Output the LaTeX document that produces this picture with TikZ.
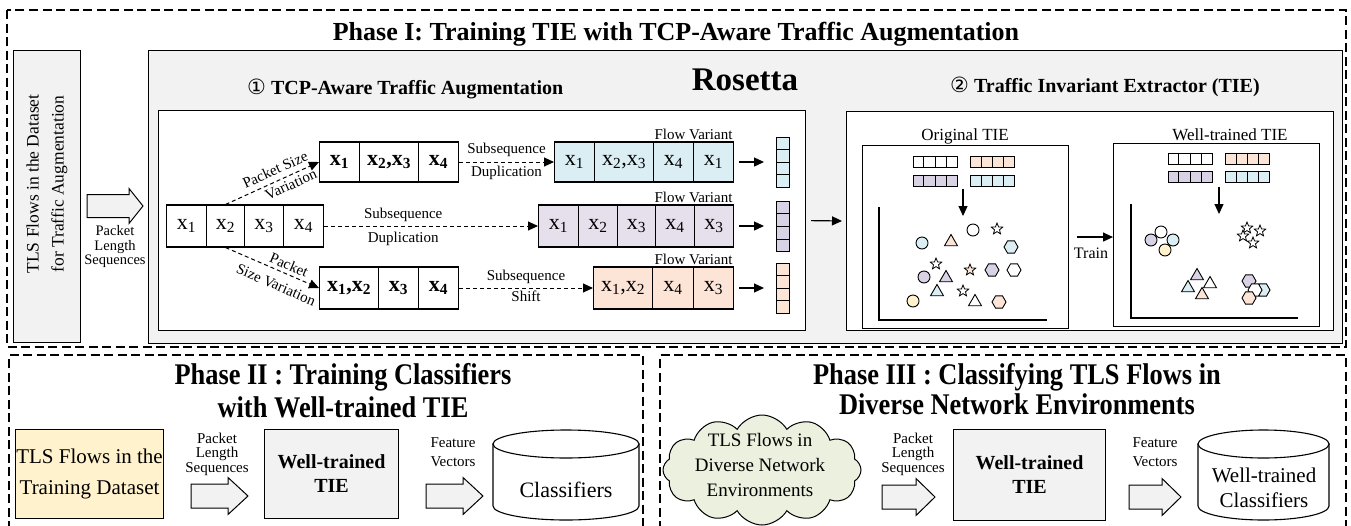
\documentclass[tikz,border=0pt]{standalone}
\usepackage{fontspec}
\setmainfont{Liberation Serif}
\newfontfamily\djv{DejaVu Sans}
\newfontfamily\condf[FakeStretch=0.88]{Liberation Serif}
\usetikzlibrary{arrows.meta,shapes.geometric,shapes.symbols,calc}
\definecolor{boxgray}{HTML}{F2F2F2}
\definecolor{cblue}{HTML}{DAEEF3}
\definecolor{cpurp}{HTML}{E5E0EC}
\definecolor{cpurpd}{HTML}{D9D2E5}
\definecolor{corange}{HTML}{FCE4D6}
\definecolor{cyellow}{HTML}{FFF2CC}
\definecolor{cgreen}{HTML}{EBF1DE}
\newcommand\fsz[2]{\fontsize{#1}{#2}\selectfont}
\newcommand\xx[1]{x\textsubscript{#1}}
\tikzset{
  phase/.style={line width=1.1pt, dash pattern=on 9pt off 4.5pt},
  graybox/.style={draw, fill=boxgray, line width=1.1pt, inner sep=0pt},
  whitebox/.style={draw, fill=white, line width=1.1pt, inner sep=0pt},
  cellr/.style={draw, line width=1.1pt, inner sep=0pt, anchor=west, minimum height=42pt, font=\fsz{22}{22}},
  cellb/.style={cellr, font=\bfseries\fsz{22}{22}},
  lab/.style={font=\fsz{15}{16}, inner sep=1.5pt},
  darr/.style={line width=1pt, dash pattern=on 4pt off 3pt, -{Triangle[length=10pt,width=9pt]}},
  sarr/.style={line width=1.2pt, -{Triangle[length=10pt,width=9pt]}},
  barr/.style={draw, fill=boxgray, line width=1pt},
  shp/.style={draw, line width=0.9pt, inner sep=0pt},
  cir/.style={shp, circle, minimum size=12pt},
  tri/.style={shp, regular polygon, regular polygon sides=3, minimum size=15pt},
  hex/.style={shp, regular polygon, regular polygon sides=6, minimum size=14pt},
  st/.style={shp, star, star points=5, star point ratio=2.3, minimum size=12pt, line width=0.8pt},
}
\newcommand\hvec[4]{\node[draw, fill=#4, line width=0.9pt, minimum width=44pt, minimum height=11pt, inner sep=0pt] (#1) at (#2,#3) {};
  \foreach \k in {1,2,3} \draw[line width=0.9pt] ($(#1.north west)!\k/4!(#1.north east)$) -- ($(#1.south west)!\k/4!(#1.south east)$);}
\newcommand\vvec[4]{\node[draw, fill=#4, line width=1pt, minimum width=13pt, minimum height=50pt, inner sep=0pt] (#1) at (#2,#3) {};
  \foreach \k in {1,2,3} \draw[line width=1pt] ($(#1.north west)!\k/4!(#1.south west)$) -- ($(#1.north east)!\k/4!(#1.south east)$);}
\newcommand\blkarrow[7]{\coordinate (#1) at (#2,#3);
  \draw[barr] (#1) ++(0,-#6) -- ++(#4-#5,0) -- ++(0,#6-#7) -- ++(#5,#7) -- ++(-#5,#7) -- ++(0,#6-#7) -- ++(-#4+#5,0) -- cycle;}
\newcommand\cyl[6]{% name, cx, top, bottom, halfwidth, ry
  \coordinate (#1) at (#2,{(#3+#4)/2});
  \draw[line width=1.1pt, fill=white] (#2-#5,#3+#6) -- (#2-#5,#4-#6) arc[start angle=180, end angle=0, x radius=#5, y radius=#6] -- (#2+#5,#3+#6) -- cycle;
  \draw[line width=1.1pt, fill=white] (#2,#3+#6) ellipse [x radius=#5, y radius=#6];}
\begin{document}
\begin{tikzpicture}[x=1pt,y=-1pt]
\useasboundingbox (0,0) rectangle (1351,525);
\fill[white] (0,0) rectangle (1351,525);

% ---------------- Phase I ----------------
\draw[phase] (7,10) rectangle (1346,347);
\node[font=\bfseries\fsz{26}{26}, anchor=base] (p1title) at (676,40) {Phase I: Training TIE with TCP-Aware Traffic Augmentation};

\node[graybox, anchor=north west, minimum width=67pt, minimum height=292pt] (src) at (13,50) {};
\node[rotate=90, align=center, font=\fsz{17.5}{25}] (srctext) at (47,184) {TLS Flows in the Dataset\\for Traffic Augmentation};
\blkarrow{a0}{87}{206}{56}{14}{11.5}{17.5}
\node[align=center, font=\fsz{14.5}{14.5}] (pls0) at (115,247) {Packet\\Length\\Sequences};

\node[graybox, anchor=north west, minimum width=1194pt, minimum height=293pt] (rosetta) at (148,50) {};
\node[font=\bfseries\fsz{33}{33}, anchor=base] (rname) at (745,90) {Rosetta};
\node[anchor=base west, font=\bfseries\fsz{20}{20}, inner sep=0pt] (augtitle) at (247,94) {{\djv\mdseries\fsz{21}{21}①} TCP-Aware Traffic Augmentation};
\node[anchor=base west, font=\bfseries\fsz{20}{20}, inner sep=0pt] (tietitle) at (950,92) {{\djv\mdseries\fsz{21}{21}②} Traffic Invariant Extractor (TIE)};

\node[whitebox, anchor=north west, minimum width=647pt, minimum height=220pt] (augbox) at (158,110) {};

% original sequence
\node[cellr, minimum width=40pt] (o1) at (166,226) {\xx1};
\node[cellr, minimum width=38pt] (o2) at (206,226) {\xx2};
\node[cellr, minimum width=39pt] (o3) at (244,226) {\xx3};
\node[cellr, minimum width=40pt] (o4) at (283,226) {\xx4};
% top variation
\node[cellb, minimum width=40pt, minimum height=40pt] (t1) at (319,162) {\xx1};
\node[cellb, minimum width=59pt, minimum height=40pt] (t2) at (359,162) {\xx2,\xx3};
\node[cellb, minimum width=40pt, minimum height=40pt] (t3) at (418,162) {\xx4};
% bottom variation
\node[cellb, minimum width=59pt] (b1) at (319,288) {\xx1,\xx2};
\node[cellb, minimum width=40pt] (b2) at (378,288) {\xx3};
\node[cellb, minimum width=40pt] (b3) at (418,288) {\xx4};
% blue flow variant
\node[cellr, fill=cblue, minimum width=40pt, minimum height=40pt] (v1) at (554,162) {\xx1};
\node[cellr, fill=cblue, minimum width=59pt, minimum height=40pt] (v2) at (594,162) {\xx2,\xx3};
\node[cellr, fill=cblue, minimum width=40pt, minimum height=40pt] (v3) at (653,162) {\xx4};
\node[cellr, fill=cblue, minimum width=40pt, minimum height=40pt] (v4) at (693,162) {\xx1};
% purple flow variant
\node[cellr, fill=cpurp, minimum width=40pt] (p1) at (538,226) {\xx1};
\node[cellr, fill=cpurp, minimum width=39pt] (p2) at (578,226) {\xx2};
\node[cellr, fill=cpurp, minimum width=38pt] (p3) at (617,226) {\xx3};
\node[cellr, fill=cpurp, minimum width=39pt] (p4) at (655,226) {\xx4};
\node[cellr, fill=cpurp, minimum width=39pt] (p5) at (694,226) {\xx3};
% orange flow variant
\node[cellr, fill=corange, minimum width=59pt] (r1) at (593,288) {\xx1,\xx2};
\node[cellr, fill=corange, minimum width=41pt] (r2) at (652,288) {\xx4};
\node[cellr, fill=corange, minimum width=40pt] (r3) at (693,288) {\xx3};

\node[lab, anchor=south east] (fvA) at (v4.north east) {Flow Variant};
\node[lab, anchor=south east] (fvB) at (p5.north east) {Flow Variant};
\node[lab, anchor=south east] (fvC) at (r3.north east) {Flow Variant};

\draw[darr] (o2.north) -- (t1.west) node[lab, sloped, above=4pt, pos=0.58] {Packet Size} node[lab, sloped, below=2pt, pos=0.66] {Variation};
\draw[darr] (o2.south) -- (b1.west) node[lab, sloped, above=2pt, pos=0.64] {Packet} node[lab, sloped, below=7pt, pos=0.6] {Size Variation};
\draw[darr] (o4.east) -- (p1.west) node[lab, above=2.5pt, pos=0.37] {Subsequence} node[lab, below=4pt, pos=0.37] {Duplication};
\draw[darr] (t3.east) -- (v1.west) node[lab, above=3pt, pos=0.5] {Subsequence} node[lab, below=2pt, pos=0.5] {Duplication};
\draw[darr] (b3.east) -- (r1.west) node[lab, above=2pt, pos=0.5] {Subsequence} node[lab, below=1pt, pos=0.5] {Shift};

\vvec{vecA}{783}{162}{cblue}
\vvec{vecB}{783}{226.5}{cpurpd}
\vvec{vecC}{783}{288}{corange}
\draw[sarr, shorten <=5pt, shorten >=12pt] (v4.east) -- (vecA.west |- v4.east);
\draw[sarr, shorten <=5pt, shorten >=12pt] (p5.east) -- (vecB.west |- p5.east);
\draw[sarr, shorten <=5pt, shorten >=12pt] (r3.east) -- (vecC.west |- r3.east);

% TIE
\node[whitebox, anchor=north west, minimum width=487pt, minimum height=219pt] (tiebox) at (846,111) {};
\draw[sarr, shorten <=5pt, shorten >=4pt] (augbox.east) -- (tiebox.west);
\node[whitebox, anchor=north west, minimum width=206pt, minimum height=183pt] (origbox) at (862,145) {};
\node[whitebox, anchor=north west, minimum width=206pt, minimum height=183pt] (wellbox) at (1113,143) {};
\node[font=\fsz{17}{17}, anchor=base] (origlab) at (965,140) {Original TIE};
\node[font=\fsz{17}{17}, anchor=base] (welllab) at (1230,140) {Well-trained TIE};
\draw[sarr] (origbox.east) ++(8,0) coordinate (trA) -- (origbox.east -| wellbox.west) coordinate (trB);
\node[font=\fsz{16}{16}] (trainlab) at (1091,253) {Train};

\hvec{oh1}{935}{162}{white}
\hvec{oh2}{992.5}{162}{corange}
\hvec{oh3}{935}{180.5}{cpurpd}
\hvec{oh4}{992.5}{180.5}{cblue}
\hvec{wh1}{1190}{158.5}{white}
\hvec{wh2}{1247.5}{158.5}{corange}
\hvec{wh3}{1190}{176.5}{cpurpd}
\hvec{wh4}{1247.5}{176.5}{cblue}
\coordinate (oda) at (963,189); \coordinate (odb) at (963,216);
\coordinate (wda) at (1219,187); \coordinate (wdb) at (1219,214);
\draw[sarr] (oda) -- (odb);
\draw[sarr] (wda) -- (wdb);
\draw[line width=1.8pt] (879,207) -- (879,320) -- (1047,320);
\draw[line width=1.8pt] (1131,204) -- (1131,318) -- (1298,318);

% scattered embeddings (original)
\node[cir, fill=white] (os1) at (973,230) {};
\node[st, fill=white] (os2) at (997,229) {};
\node[cir, fill=cblue] (os3) at (922,243) {};
\node[tri, fill=corange] (os4) at (951,242) {};
\node[hex, fill=cblue] (os5) at (1011,247) {};
\node[st, fill=white] (os6) at (936,264) {};
\node[st, fill=corange] (os7) at (970,270) {};
\node[hex, fill=cpurpd] (os8) at (992,270) {};
\node[hex, fill=white] (os9) at (1014,270) {};
\node[cir, fill=cpurpd] (os10) at (924,277) {};
\node[tri, fill=cpurpd] (os11) at (946,278) {};
\node[tri, fill=cblue] (os12) at (937,292) {};
\node[st, fill=white] (os13) at (963,291) {};
\node[cir, fill=cyellow] (os14) at (913,301) {};
\node[tri, fill=white] (os15) at (975,302) {};
\node[hex, fill=corange] (os16) at (999,302) {};
% clustered embeddings (well-trained)
\node[cir, fill=cpurpd] (ws1) at (1151,240) {};
\node[cir, fill=white] (ws2) at (1161,232) {};
\node[cir, fill=cblue] (ws3) at (1173,240) {};
\node[cir, fill=cyellow] (ws4) at (1165,250) {};
\node[st, fill=white] (ws5) at (1247,228) {};
\node[st, fill=white] (ws6) at (1260,231) {};
\node[st, fill=white] (ws7) at (1243,236) {};
\node[st, fill=white] (ws8) at (1253,243) {};
\node[tri, fill=cpurpd] (ws9) at (1197,276) {};
\node[tri, fill=cblue] (ws10) at (1188,288) {};
\node[tri, fill=white] (ws11) at (1210,284) {};
\node[tri, fill=corange] (ws12) at (1202,295) {};
\node[hex, fill=cpurpd] (ws13) at (1249,281) {};
\node[hex, fill=cblue] (ws14) at (1263,290) {};
\node[hex, fill=white] (ws15) at (1255,290) {};
\node[hex, fill=corange] (ws16) at (1249,298) {};

% ---------------- Phase II ----------------
\draw[phase] (9,530) -- (9,355) -- (643,355) -- (643,530);
\node[font=\condf\bfseries\fsz{30}{30}, anchor=base] (p2t1) at (343,384) {Phase II : Training Classifiers};
\node[font=\condf\bfseries\fsz{30}{30}, anchor=base] (p2t2) at (343,417) {with Well-trained TIE};
\node[draw, fill=cyellow, line width=1.1pt, anchor=north west, minimum width=148pt, minimum height=89pt, inner sep=0pt] (train) at (15,429) {};
\node[align=center, font=\fsz{21}{31}] (traintext) at (train.center) {TLS Flows in the\\Training Dataset};
\node[align=center, font=\fsz{15}{14.5}] (pls2) at (217,454) {Packet\\Length\\Sequences};
\blkarrow{a2}{191}{496}{57}{20}{12}{18.5}
\node[graybox, anchor=north west, minimum width=134pt, minimum height=89pt] (tie2) at (264,429) {};
\node[align=center, font=\bfseries\fsz{20}{24}] (tie2text) at (tie2.center) {Well-trained\\TIE};
\node[align=center, font=\fsz{15}{19}] (fv2) at (453,452.5) {Feature\\Vectors};
\blkarrow{a3}{426}{496}{57}{20}{12}{18.5}
\cyl{cls2}{566}{430}{520}{73}{14}
\node[font=\fsz{22}{22}] (cls2text) at (566,490) {Classifiers};

% ---------------- Phase III ----------------
\draw[phase] (660,530) -- (660,355) -- (1346,355) -- (1346,530);
\node[font=\condf\bfseries\fsz{30}{30}, anchor=base] (p3t1) at (1017,384) {Phase III : Classifying TLS Flows in};
\node[font=\condf\bfseries\fsz{30}{30}, anchor=base] (p3t2) at (1017,414) {Diverse Network Environments};
\node[cloud, cloud puffs=12, cloud puff arc=120, aspect=1.8, cloud ignores aspect, draw, fill=cgreen, line width=1pt, minimum width=198pt, minimum height=110pt, inner sep=0pt] (cloud) at (762,470) {};
\node[align=center, font=\fsz{19}{25}] (cloudtext) at (760,465) {TLS Flows in\\Diverse Network\\Environments};
\node[align=center, font=\fsz{15}{14.5}] (pls3) at (913,454) {Packet\\Length\\Sequences};
\blkarrow{a4}{882}{497}{53}{19}{12}{18.5}
\node[graybox, anchor=north west, minimum width=152pt, minimum height=91pt] (tie3) at (953,429) {};
\node[align=center, font=\bfseries\fsz{20}{24}] (tie3text) at (tie3.center) {Well-trained\\TIE};
\node[align=center, font=\fsz{15}{19}] (fv3) at (1155,452.5) {Feature\\Vectors};
\blkarrow{a5}{1129}{497}{52}{19}{12}{18.5}
\cyl{cls3}{1263.5}{430}{520}{65.5}{14}
\node[align=center, font=\fsz{21}{25}] (cls3text) at (1264,488) {Well-trained\\Classifiers};
\end{tikzpicture}
\end{document}
